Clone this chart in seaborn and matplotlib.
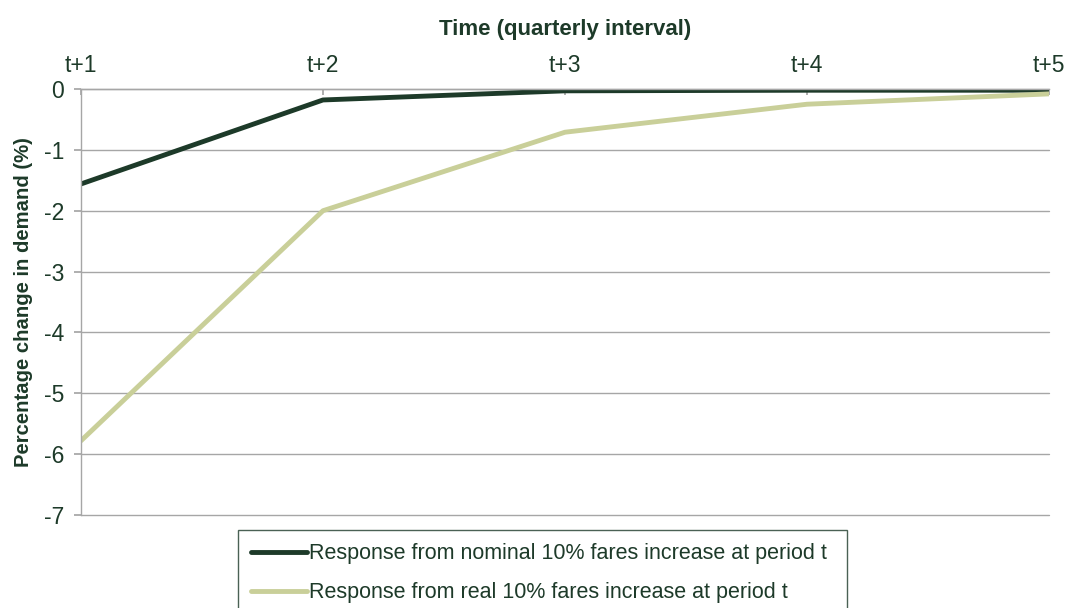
import matplotlib
matplotlib.use("Agg")
import matplotlib.pyplot as plt
import seaborn as sns
import pandas as pd

periods = ["t+1", "t+2", "t+3", "t+4", "t+5"]
nominal = [-1.56, -0.18, -0.03, -0.02, -0.02]
real = [-5.78, -2.0, -0.71, -0.25, -0.08]
series_names = ["Response from nominal 10% fares increase at period t",
                "Response from real 10% fares increase at period t"]
colors = ["#1d3a29", "#c9cf99"]

sns.set_theme(style="white")
plt.rcParams['font.family'] = ['Liberation Sans', 'DejaVu Sans']
text_color = "#1d3a29"

df = pd.DataFrame({
    "pos": list(range(len(periods))) * 2,
    "value": nominal + real,
    "series": [series_names[0]] * len(periods) + [series_names[1]] * len(periods),
})

fig = plt.figure(figsize=(10.66, 6.08), dpi=100)
ax = fig.add_axes([0.076, 0.153, 0.908, 0.7006])

sns.lineplot(data=df, x="pos", y="value", hue="series", palette=colors,
             linewidth=3.5, ax=ax, legend=True, sort=False)

ax.set_xlim(0, len(periods) - 1)
ax.set_ylim(-7, 0)
ax.set_yticks(range(-7, 1))
ax.set_yticklabels([str(v) for v in range(-7, 1)])
ax.set_xticks(range(len(periods)))
ax.set_xticklabels(periods)
ax.xaxis.tick_top()
ax.xaxis.set_label_position("top")
ax.grid(axis="y", color="#a6a6a6", linewidth=1)
for gl in ax.yaxis.get_gridlines():
    gl.set_clip_on(False)
ax.set_axisbelow(True)
for s in ["right", "bottom"]:
    ax.spines[s].set_visible(False)
for s in ["left", "top"]:
    ax.spines[s].set_color("#a6a6a6")
    ax.spines[s].set_linewidth(1)
ax.tick_params(axis="y", which="major", length=5, color="#a6a6a6", labelsize=16.5,
               labelcolor=text_color, pad=7, left=True)
ax.tick_params(axis="x", which="major", length=4, direction="in", color="#a6a6a6",
               labelsize=16.5, labelcolor=text_color, pad=9, top=True)
ax.set_xlabel("Time (quarterly interval)", fontsize=16, fontweight="bold",
              color=text_color, labelpad=13)
ax.set_ylabel("Percentage change in demand (%)", fontsize=14.6, fontweight="bold",
              color=text_color, labelpad=8)

h, l = ax.get_legend_handles_labels()
ax.legend_.remove()
leg = fig.legend(h, l, loc="upper left",
                 bbox_to_anchor=(238 / 1066, -0.2, 609 / 1066, 0.128 + 0.2),
                 mode="expand", frameon=True, fancybox=False, fontsize=15.5,
                 handlelength=2.6, handletextpad=0.1, labelcolor=text_color,
                 borderpad=0.6, labelspacing=0.85, borderaxespad=0)
leg.get_frame().set_edgecolor(text_color)
leg.get_frame().set_linewidth(1)

fig.savefig("out.png", dpi=100)
